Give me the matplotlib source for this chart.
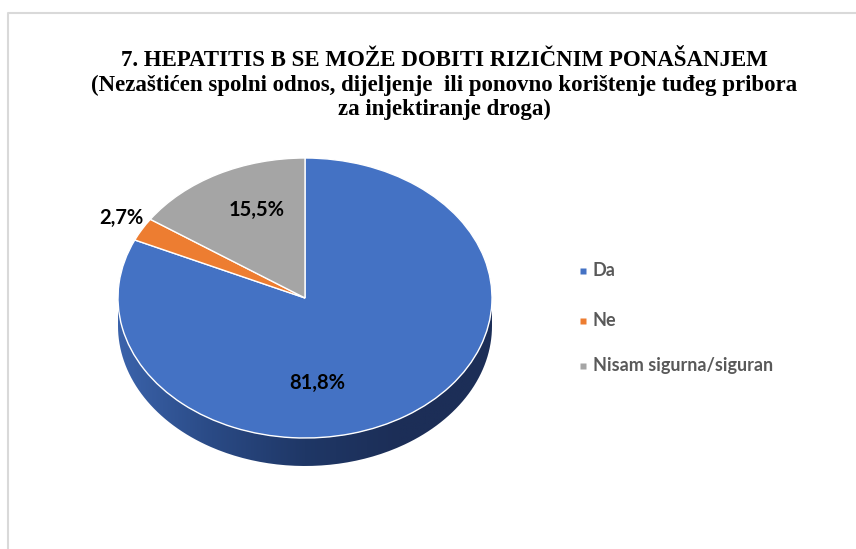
import numpy as np
import matplotlib.pyplot as plt
from matplotlib.path import Path
from matplotlib.patches import PathPatch
from matplotlib.colors import LinearSegmentedColormap

# data
labels = ["Da", "Ne", "Nisam sigurna/siguran"]
values = [81.8, 2.7, 15.5]
value_text = ["81,8%", "2,7%", "15,5%"]
colors = ["#4472C4", "#ED7D31", "#A5A5A5"]

title = ("7. HEPATITIS B SE MOŽE DOBITI RIZIČNIM PONAŠANJEM\n"
         "(Nezaštićen spolni odnos, dijeljenje  ili ponovno korištenje tuđeg pribora\n"
         "za injektiranje droga)")

W, H = 856, 549
fig = plt.figure(figsize=(W / 100, H / 100), dpi=100)

# background axes in pixel coords (frame + title + legend + labels)
bg = fig.add_axes([0, 0, 1, 1])
bg.set_xlim(0, W)
bg.set_ylim(H, 0)
bg.axis("off")
bg.set_zorder(2)
bg.plot([8, 8, W + 5], [H + 5, 13, 13], color="#D9D9D9", lw=1.5)

bg.text(444, 85, title, ha="center", va="center", family="Liberation Serif",
        fontweight="bold", fontsize=16.5, linespacing=1.2, color="black")

# legend
for i, (lab, col) in enumerate(zip(labels, colors)):
    y = [271, 321, 366][i]
    bg.plot(583, y, marker="s", ms=5, color=col, mec="none")
    bg.text(593, y, lab, ha="left", va="center", family="Lato",
            fontweight="bold", fontsize=13, color="#595959")

# pie axes: unit circle mapped onto the ellipse, extra room for the side
cx, cy, rx, ry, depth = 305, 298, 187, 140, 28
d = depth / ry
ax = fig.add_axes([(cx - rx) / W, (H - (cy + ry + depth)) / H,
                   2 * rx / W, (2 * ry + depth) / H])
ax.set_zorder(1)
wedges, _ = ax.pie(values, colors=colors, startangle=90, counterclock=False,
                   wedgeprops=dict(edgecolor="white", linewidth=1.0))
for w in wedges:
    w.set_zorder(2)

# side of the 3D pie with gradient
t = np.linspace(np.pi, 2 * np.pi, 200)
xs = np.concatenate([np.cos(t), np.cos(t[::-1])])
ys = np.concatenate([np.sin(t) - d, np.sin(t[::-1])])
side = PathPatch(Path(np.column_stack([xs, ys])), facecolor="none",
                 edgecolor="none", transform=ax.transData)
ax.add_patch(side)
grad = np.linspace(0, 1, 256).reshape(1, -1)
cmap = LinearSegmentedColormap.from_list(
    "side", ["#3B63AB", "#2A4A85", "#1F3766", "#1C2E57", "#1C2E57"])
im = ax.imshow(grad, cmap=cmap, extent=[-1, 1, -1 - d, 0], aspect="auto", zorder=0)
im.set_clip_path(side)
ax.set_aspect("auto")
ax.set_xlim(-1, 1)
ax.set_ylim(-1 - d, 1)
ax.axis("off")

# value labels
label_pos = [(317, 383), (121, 218), (257, 210)]
for txt, (x, y) in zip(value_text, label_pos):
    bg.text(x, y, txt, ha="center", va="center", family="Lato",
            fontweight="bold", fontsize=14.5, color="black")

fig.savefig("out.png", dpi=100)
